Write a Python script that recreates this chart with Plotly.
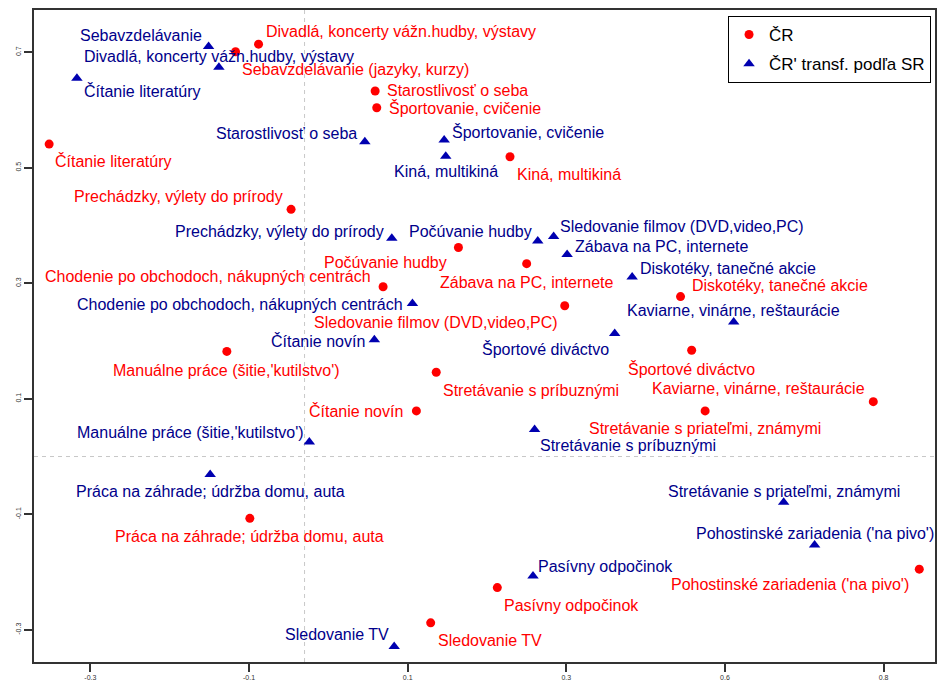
import plotly.graph_objects as go

# ---- data ----
red_labels = [
    "Divadlá, koncerty vážn.hudby, výstavy", "Sebavzdelávanie (jazyky, kurzy)",
    "Čítanie literatúry", "Starostlivosť o seba", "Športovanie, cvičenie",
    "Kiná, multikiná", "Prechádzky, výlety do prírody", "Počúvanie hudby",
    "Zábava na PC, internete", "Chodenie po obchodoch, nákupných centrách",
    "Diskotéky, tanečné akcie", "Sledovanie filmov (DVD,video,PC)",
    "Manuálne práce (šitie,'kutilstvo')", "Športové diváctvo",
    "Stretávanie s príbuznými", "Kaviarne, vinárne, reštaurácie", "Čítanie novín",
    "Stretávanie s priateľmi, známymi", "Práca na záhrade; údržba domu, auta",
    "Pohostinské zariadenia ('na pivo')", "Pasívny odpočinok", "Sledovanie TV",
]
blue_labels = [
    "Divadlá, koncerty vážn.hudby, výstavy", "Sebavzdelávanie",
    "Čítanie literatúry", "Starostlivosť o seba", "Športovanie, cvičenie",
    "Kiná, multikiná", "Prechádzky, výlety do prírody", "Počúvanie hudby",
    "Zábava na PC, internete", "Chodenie po obchodoch, nákupných centrách",
    "Diskotéky, tanečné akcie", "Sledovanie filmov (DVD,video,PC)",
    "Manuálne práce (šitie,'kutilstvo')", "Športové diváctvo",
    "Stretávanie s príbuznými", "Kaviarne, vinárne, reštaurácie", "Čítanie novín",
    "Stretávanie s priateľmi, známymi", "Práca na záhrade; údržba domu, auta",
    "Pohostinské zariadenia ('na pivo')", "Pasívny odpočinok", "Sledovanie TV",
]

cr_x = [-0.088, -0.117, -0.352, 0.059, 0.061, 0.229, -0.047, 0.164, 0.250, 0.069, 0.444,
        0.298, -0.128, 0.458, 0.136, 0.687, 0.111, 0.475, -0.099, 0.745, 0.213, 0.129]
cr_y = [0.714, 0.701, 0.541, 0.633, 0.604, 0.519, 0.428, 0.362, 0.334, 0.294, 0.277,
        0.261, 0.182, 0.184, 0.146, 0.095, 0.079, 0.079, -0.107, -0.195, -0.227, -0.288]

sr_x = [-0.138, -0.151, -0.317, 0.046, 0.146, 0.148, 0.080, 0.264, 0.301, 0.106, 0.383,
        0.284, -0.024, 0.361, 0.260, 0.511, 0.058, 0.574, -0.149, 0.613, 0.258, 0.083]
sr_y = [0.674, 0.710, 0.655, 0.545, 0.548, 0.520, 0.378, 0.373, 0.350, 0.265, 0.311,
        0.381, 0.025, 0.213, 0.047, 0.233, 0.202, -0.079, -0.031, -0.153, -0.207, -0.329]

x_tick_vals = [-0.3, -0.1, 0.1, 0.3, 0.5, 0.7]
x_tick_text = ["-0.3", "-0.1", "0.1", "0.3", "0.6", "0.8"]
y_tick_vals = [-0.3, -0.1, 0.1, 0.3, 0.5, 0.7]
y_tick_text = ["-0.3", "-0.1", "0.1", "0.3", "0.5", "0.7"]

ref_v = -0.03
ref_h = 0.0

# ---- label placement (anchor, shift right px, shift down px) ----
red_place = [
    ("left", 5, -13), ("left", 4, 18), ("left", 4, 17), ("left", 10, 0), ("left", 10, 0),
    ("left", 5, 18), ("right", -6, -13), ("right", -9, 15), ("center", 0, 19),
    ("right", -10, -10), ("left", 9, -11), ("right", -5, 17), ("center", 0, 19),
    ("center", 0, 19), ("left", 5, 18), ("right", -6, -13), ("right", -11, 0),
    ("center", 0, 18), ("center", 0, 18), ("right", -8, 15), ("left", 5, 18), ("left", 5, 18),
]
blue_place = [
    ("center", 0, -11), ("right", -5, -11), ("left", 5, 13), ("right", -6, -8), ("left", 6, -8),
    ("center", 0, 15), ("right", -6, -7), ("right", -4, -10), ("left", 6, -8), ("right", -7, 1),
    ("left", 6, -8), ("left", 4, -10), ("right", -3, -10), ("right", -4, 15), ("left", 3, 16),
    ("center", 0, -11), ("right", -7, 1), ("center", 0, -11), ("center", 0, 17),
    ("center", 0, -11), ("left", 3, -10), ("right", -3, -12),
]

RED = "#ff0000"
BLUE_M = "#0000b0"
BLUE_T = "#00008b"
FONT = "Liberation Sans, Arial, sans-serif"

fig = go.Figure()
fig.add_trace(go.Scatter(x=cr_x, y=cr_y, mode="markers", name="ČR", legendgroup="a",
                         marker=dict(symbol="circle", size=9, color=RED)))
fig.add_trace(go.Scatter(x=sr_x, y=sr_y, mode="markers", name="ČR' transf. podľa SR",
                         legendgroup="b",
                         marker=dict(symbol="triangle-up", size=10, color=BLUE_M)))

annotations = []
for xs, ys, labs, place, col in [(cr_x, cr_y, red_labels, red_place, RED),
                                 (sr_x, sr_y, blue_labels, blue_place, BLUE_T)]:
    for xv, yv, t, (anc, dx, dy) in zip(xs, ys, labs, place):
        annotations.append(dict(x=xv, y=yv, text=t, showarrow=False, xanchor=anc,
                                yanchor="middle", xshift=dx, yshift=-dy,
                                font=dict(family=FONT, size=16, color=col)))

fig.update_layout(
    width=938, height=683,
    margin=dict(l=34, r=1, t=10, b=21),
    paper_bgcolor="white", plot_bgcolor="white",
    font=dict(family=FONT, color="#333333"),
    annotations=annotations,
    showlegend=True,
    legend=dict(x=0.9956, xanchor="right", y=0.9908, yanchor="top",
                bordercolor="black", borderwidth=1, bgcolor="white",
                font=dict(family=FONT, size=17, color="black"),
                itemwidth=30, tracegroupgap=4),
    shapes=[
        dict(type="line", xref="x", yref="paper", x0=ref_v, x1=ref_v, y0=0, y1=1,
             line=dict(color="#c8c8c8", width=1, dash="4px,4px"), layer="below"),
        dict(type="line", xref="paper", yref="y", x0=0, x1=1, y0=ref_h, y1=ref_h,
             line=dict(color="#c8c8c8", width=1, dash="4px,4px"), layer="below"),
    ],
)
fig.update_xaxes(range=[-0.3711, 0.7648], tickvals=x_tick_vals, ticktext=x_tick_text,
                 showgrid=False, zeroline=False, showline=True, mirror=True,
                 linecolor="#333333", linewidth=2, ticks="outside", ticklen=8,
                 tickcolor="#333333", tickwidth=1.5, tickfont=dict(size=7, color="#333333"))
fig.update_yaxes(range=[-0.3558, 0.7732], tickvals=y_tick_vals, ticktext=y_tick_text,
                 showgrid=False, zeroline=False, showline=True, mirror=True,
                 linecolor="#333333", linewidth=2, ticks="outside", ticklen=8,
                 tickcolor="#333333", tickwidth=1.5, tickangle=-90,
                 tickfont=dict(size=7, color="#333333"))

fig.write_html(
    "out.html",
    config={"displayModeBar": False},
    post_script="document.body.style.margin='0';document.body.style.overflow='hidden';",
)
